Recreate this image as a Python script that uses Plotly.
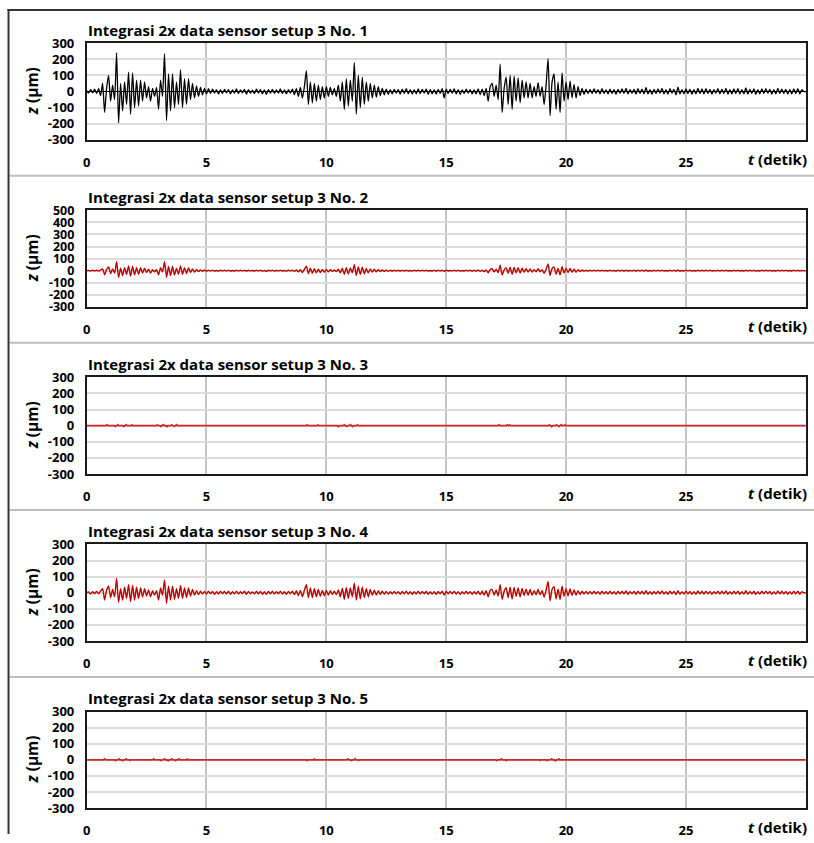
import plotly.graph_objects as go

# ---------------- data ----------------
dt = 1.0 / 12.0  # sample spacing of the listed extrema (s)

z_no1 = [
    5, -10, 12, -8, 15, -12, 18, -25, 50, -130, 20, 100,
    -60, 40, -50, 240, -195, 50, -120, 60, -80, 120, -140, 115,
    -100, 70, -90, 70, -60, 60, -40, 30, -60, 20, -30, 25,
    -110, 70, -30, 235, -180, 110, -120, 110, -100, 60, -80, 135,
    -100, 80, -80, 80, -50, 50, -40, 35, -30, 25, -20, 20,
    -15, 18, -12, 15, -10, 12, -15, 10, -12, 14, -8, 12,
    -14, 10, -10, 16, -12, 10, -8, 14, -16, 12, -10, 8,
    -12, 15, -10, 12, -14, 10, -18, 12, -10, 14, -12, 10,
    -10, 16, -12, 10, -14, 12, -10, 15, -20, 18, -30, 25,
    -40, 30, 130, -80, 60, -70, 50, -60, 40, -50, 30, -40,
    30, -30, 25, -20, 20, -30, 40, -60, 60, -110, 80, -90,
    70, -60, 180, -140, 100, -100, 90, -80, 60, -60, 50, -40,
    40, -35, 30, -25, 20, -20, 15, -18, 12, -15, 14, -10,
    12, -16, 15, -12, 18, -14, 12, -16, 10, -14, 16, -12,
    14, -10, 15, -18, 12, -14, 10, -16, 14, -12, 18, -40,
    15, -12, 14, -10, 16, -14, 12, -18, 10, -12, 15, -10,
    12, -15, 10, -14, 16, -20, 15, -25, 20, -60, 30, 50,
    -30, 40, -50, 170, -130, 20, 90, -80, 100, -110, 95, -60,
    85, -70, 70, -40, 60, -40, 50, -40, 30, -30, 55, -30,
    30, -80, 40, 205, -150, 60, 110, -110, 60, -130, 115, -60,
    60, -50, 65, -40, 45, -40, 30, -25, 20, -18, 15, -12,
    14, -12, 16, -10, 12, -15, 18, -12, 10, -14, 15, -12,
    12, -18, 14, -10, 16, -12, 20, -15, 12, -10, 14, -16,
    18, -12, 15, -14, 25, -15, 12, -18, 14, -12, 16, -10,
    20, -14, 12, -16, 18, -10, 14, -20, 28, -15, 12, -14,
    16, -12, 14, -18, 12, -15, 20, -12, 16, -14, 18, -12,
    14, -16, 12, -10, 18, -14, 15, -12, 20, -16, 12, -14,
    16, -12, 18, -15, 12, -14, 22, -16, 14, -12, 16, -18,
    12, -14, 16, -12, 18, -10, 14, -16, 12, -14, 20, -12,
    15, -12, 14, -16, 12, -14, 16, -12, 18, -15, 12, 0,
    0,
]

z_no2 = [
    0, 2, -3, 3, -2, 4, -3, 5, 15, -35, 10, 30,
    -25, 15, -20, 75, -55, 20, -40, 25, -30, 40, -45, 35,
    -35, 25, -30, 25, -20, 20, -15, 12, -20, 8, -10, 8,
    -35, 25, -10, 75, -55, 35, -40, 35, -35, 20, -30, 40,
    -30, 25, -25, 25, -15, 15, -12, 10, -8, 7, -5, 5,
    -4, 3, -2, 4, -3, 2, -4, 3, -2, 4, -2, 3,
    -3, 2, -3, 4, -2, 3, -2, 4, -4, 3, -2, 2,
    -3, 4, -2, 3, -4, 2, -5, 3, -2, 4, -3, 2,
    -2, 4, -3, 2, -4, 3, -2, 4, -6, 5, -10, 8,
    -15, 10, 38, -25, 20, -22, 16, -18, 12, -15, 10, -12,
    10, -10, 8, -6, 6, -8, 12, -18, 20, -30, 25, -28,
    22, -18, 50, -40, 30, -30, 28, -25, 18, -18, 15, -12,
    12, -10, 9, -8, 6, -6, 5, -5, 4, -4, 4, -3,
    3, -4, 3, -3, 4, -3, 2, -4, 3, -3, 4, -2,
    3, -2, 4, -3, 2, -3, 3, -4, 3, -2, 4, -6,
    3, -3, 2, -2, 4, -3, 3, -4, 2, -3, 3, -2,
    3, -4, 3, -4, 5, -6, 4, -8, 6, -18, 10, 15,
    -10, 12, -15, 45, -35, 6, 25, -22, 28, -30, 26, -18,
    24, -20, 20, -12, 17, -12, 15, -12, 9, -9, 16, -9,
    9, -22, 12, 55, -40, 18, 30, -30, 18, -35, 32, -18,
    18, -15, 18, -12, 13, -12, 9, -7, 6, -5, 4, -4,
    3, -2, 4, -2, 3, -3, 4, -2, 2, -3, 3, -2,
    2, -4, 3, -2, 4, -3, 4, -3, 2, -2, 3, -4,
    4, -2, 3, -3, 5, -3, 2, -4, 3, -2, 3, -2,
    4, -3, 2, -3, 4, -2, 3, -4, 5, -3, 2, -3,
    3, -2, 3, -4, 2, -3, 4, -2, 3, -3, 4, -2,
    3, -3, 2, -2, 4, -3, 3, -2, 4, -3, 2, -3,
    3, -2, 4, -3, 2, -3, 4, -3, 3, -2, 3, -4,
    2, -3, 3, -2, 4, -2, 3, -3, 2, -3, 4, -2,
    3, -2, 3, -3, 2, -3, 3, -2, 4, -3, 2, 0,
    0,
]

z_no4 = [
    0, 5, -8, 6, -5, 8, -6, 10, 25, -45, 15, 40,
    -30, 20, -25, 90, -60, 25, -45, 35, -35, 50, -55, 45,
    -45, 35, -35, 30, -25, 25, -20, 18, -25, 12, -15, 12,
    -45, 30, -15, 80, -65, 40, -45, 40, -40, 25, -35, 45,
    -35, 30, -30, 30, -20, 20, -15, 12, -12, 10, -8, 8,
    -8, 10, -6, 8, -10, 6, -8, 10, -6, 8, -7, 9,
    -9, 6, -7, 10, -8, 6, -5, 9, -10, 8, -6, 5,
    -7, 9, -6, 8, -9, 6, -10, 8, -6, 9, -8, 6,
    -6, 10, -8, 6, -9, 8, -6, 10, -12, 12, -18, 15,
    -25, 15, 50, -30, 30, -30, 25, -25, 20, -22, 15, -18,
    15, -15, 12, -10, 10, -12, 18, -25, 28, -40, 32, -35,
    30, -25, 60, -45, 40, -38, 35, -30, 25, -25, 20, -15,
    16, -14, 12, -10, 9, -9, 8, -8, 7, -7, 8, -6,
    7, -9, 8, -7, 10, -8, 7, -9, 6, -8, 9, -7,
    8, -6, 9, -10, 7, -8, 6, -9, 8, -7, 10, -15,
    9, -7, 8, -6, 10, -8, 7, -10, 6, -7, 9, -6,
    7, -9, 6, -8, 10, -12, 9, -14, 12, -25, 15, 20,
    -15, 18, -20, 50, -40, 10, 32, -30, 35, -38, 33, -22,
    30, -25, 26, -16, 22, -16, 20, -16, 12, -12, 20, -12,
    12, -28, 15, 70, -50, 22, 38, -38, 22, -42, 40, -22,
    24, -20, 24, -16, 18, -15, 12, -10, 9, -8, 8, -7,
    8, -7, 9, -6, 7, -9, 10, -7, 6, -8, 9, -7,
    7, -10, 8, -6, 9, -7, 11, -9, 7, -6, 8, -9,
    10, -7, 9, -8, 12, -9, 7, -10, 8, -7, 9, -6,
    11, -8, 7, -9, 10, -6, 8, -11, 12, -9, 7, -8,
    9, -7, 8, -10, 7, -9, 11, -7, 9, -8, 10, -7,
    8, -9, 7, -6, 10, -8, 9, -7, 11, -9, 7, -8,
    9, -7, 10, -9, 7, -8, 12, -9, 8, -7, 9, -10,
    7, -8, 9, -7, 10, -6, 8, -9, 7, -8, 11, -7,
    9, -7, 8, -9, 7, -8, 9, -7, 10, -9, 7, 0,
    0,
]

# sensors 3 and 5: flat at zero with tiny blips (time s, amplitude um)
blip3_t = [0.85, 1.2, 1.3, 1.55, 1.65, 1.9, 2.95, 3.1, 3.2, 3.35, 3.55, 3.65, 3.75,
           9.2, 9.65, 10.5, 10.75, 10.85, 11.0, 11.1, 11.3,
           17.2, 17.55, 17.65, 19.3, 19.4, 19.6, 19.7, 19.8, 19.95]
blip3_z = [6, -5, 6, -5, 6, 5, 5, -5, 6, -6, 5, -5, 6,
           5, 5, -6, 5, -4, 6, -5, 5,
           6, 5, 5, 5, -6, 5, -5, 6, 5]
blip5_t = [0.75, 1.2, 1.35, 1.5, 1.65, 1.8, 2.2, 2.8, 3.1, 3.25, 3.4, 3.55, 3.7, 3.85, 4.2,
           9.2, 9.5, 10.9, 11.05, 11.2, 11.35,
           17.1, 17.3, 17.5, 18.9, 19.2, 19.4, 19.55, 19.7, 20.1]
blip5_z = [5, -5, 5, -6, 5, -4, 4, 5, -5, 5, -6, 5, -5, 5, 4,
           -5, 4, 5, -5, 6, -4,
           -5, 5, -5, -4, -5, 5, -6, 5, 4]

titles = ["Integrasi 2x data sensor setup 3 No. %d" % n for n in (1, 2, 3, 4, 5)]
x_ticks = [0, 5, 10, 15, 20, 25]
y_ticks_a = [-300, -200, -100, 0, 100, 200, 300]
y_ticks_b = [-300, -200, -100, 0, 100, 200, 300, 400, 500]


def uniform(z):
    return [i * dt for i in range(len(z))], z


def blips(tb, zb):
    t, z = [0.0], [0.0]
    for tc, a in zip(tb, zb):
        t += [tc - 0.04, tc, tc + 0.04]
        z += [0, a, 0]
    t.append(30.0)
    z.append(0.0)
    return t, z


series = [uniform(z_no1), uniform(z_no2), blips(blip3_t, blip3_z),
          uniform(z_no4), blips(blip5_t, blip5_z)]
colors = ["#000000", "#c00000", "#cc2a2a", "#c00000", "#cc2a2a"]
widths = [1.3, 1.4, 1.8, 1.4, 1.8]
shapes_ln = ["spline", "spline", "linear", "spline", "linear"]
yticks = [y_ticks_a, y_ticks_b, y_ticks_a, y_ticks_a, y_ticks_a]

# ---------------- layout ----------------
W, H = 814, 843
FONT = "Open Sans"
STEP = 167.3
# calibration of figure pixels to the photographed page (offset / scale)
CX_OFF, CX_S = 5.5, 0.99
CY_OFF, CY_S = 8.0, 0.98


def pxx(x):
    return min(max((x - CX_OFF) / CX_S / W, 0.0), 1.0)


def pyy(y):
    return min(max(1 - (y - CY_OFF) / CY_S / H, 0.0), 1.0)


fig = go.Figure()
layout = dict(width=W, height=H, autosize=False,
              margin=dict(l=0, r=0, t=0, b=0, pad=0),
              paper_bgcolor="white", plot_bgcolor="white",
              showlegend=False, font=dict(family=FONT, color="black"))
shapes = []
annotations = []

for k in range(5):
    off = k * STEP
    top, bot = 42.3 + off, 139.0 + off
    sfx = "" if k == 0 else str(k + 1)
    t, z = series[k]
    line = dict(color=colors[k], width=widths[k], shape=shapes_ln[k])
    if shapes_ln[k] == "spline":
        line["smoothing"] = 0.6
    fig.add_trace(go.Scatter(x=t, y=z, mode="lines", line=line,
                             xaxis="x" + sfx, yaxis="y" + sfx, hoverinfo="skip"))
    yt = yticks[k]
    tsize = 12.5 if len(yt) > 7 else 13
    layout["xaxis" + sfx] = dict(
        domain=[pxx(87.7), pxx(803.2)], range=[0, 30], anchor="y" + sfx,
        tickvals=x_ticks, ticktext=[str(v) for v in x_ticks],
        showgrid=True, gridcolor="#c4c4c4", gridwidth=1.5,
        zeroline=False, showline=True, mirror=True, linecolor="#1a1a1a", linewidth=1.5,
        ticks="", ticklabelstandoff=10,
        tickfont=dict(family=FONT, size=13, color="black", weight="bold"))
    layout["yaxis" + sfx] = dict(
        domain=[pyy(bot), pyy(top)], range=[yt[0], yt[-1]], anchor="x" + sfx,
        tickvals=yt, ticktext=[str(v) for v in yt],
        showgrid=True, gridcolor="#dcdcdc", gridwidth=1.5,
        zeroline=(k == 0), zerolinecolor="black", zerolinewidth=1,
        showline=True, mirror=True, linecolor="#1a1a1a", linewidth=1.5,
        ticks="", ticklabelstandoff=8,
        tickfont=dict(family=FONT, size=tsize, color="black", weight="bold"))
    annotations.append(dict(xref="paper", yref="paper", x=pxx(87), y=pyy(29 + off),
                            xanchor="left", yanchor="middle", showarrow=False,
                            text="<b>%s</b>" % titles[k],
                            font=dict(family=FONT, size=15, color="black")))
    annotations.append(dict(xref="paper", yref="paper", x=pxx(33), y=pyy((top + bot) / 2),
                            xanchor="center", yanchor="middle", showarrow=False, textangle=-90,
                            text="<b><i>z</i> (µm)</b>",
                            font=dict(family=FONT, size=15.5, color="black")))
    annotations.append(dict(xref="paper", yref="paper", x=pxx(806), y=pyy(158 + off),
                            xanchor="right", yanchor="middle", showarrow=False,
                            text="<b><i>t</i> (detik)</b>",
                            font=dict(family=FONT, size=15, color="black")))
    if k < 4:
        shapes.append(dict(type="line", xref="paper", yref="paper",
                           x0=pxx(11), x1=1, y0=pyy(175 + off), y1=pyy(175 + off),
                           line=dict(color="#bdbdbd", width=2)))

shapes.append(dict(type="line", xref="paper", yref="paper", x0=pxx(10), x1=pxx(10),
                   y0=1, y1=0, line=dict(color="#333333", width=2)))
shapes.append(dict(type="line", xref="paper", yref="paper", x0=pxx(9), x1=1,
                   y0=1 - 1.0 / H, y1=1 - 1.0 / H, line=dict(color="#333333", width=2)))

layout["shapes"] = shapes
layout["annotations"] = annotations
fig.update_layout(**layout)
fig.write_html("out.html")
